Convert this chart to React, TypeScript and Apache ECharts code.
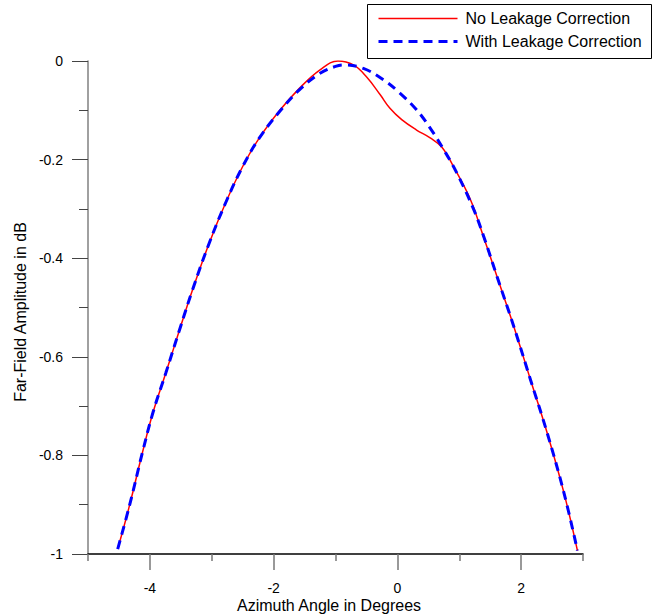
import React, { useEffect, useRef } from "react";
import * as echarts from "echarts";

const noCorrX = [-4.52, -4.33, -4.12, -3.95, -3.74, -3.52, -3.31, -3.04, -2.77, -2.5, -2.23, -1.9, -1.58, -1.25, -0.96, -0.71, -0.5, -0.28, -0.12, 0.07, 0.31, 0.53, 0.72, 0.91, 1.18, 1.39, 1.61, 1.88, 2.15, 2.42, 2.69, 2.91];
const noCorrY = [-0.99, -0.902, -0.794, -0.713, -0.632, -0.545, -0.464, -0.369, -0.286, -0.214, -0.156, -0.1, -0.055, -0.018, 0.0, -0.008, -0.032, -0.068, -0.096, -0.119, -0.14, -0.156, -0.175, -0.215, -0.281, -0.356, -0.437, -0.538, -0.646, -0.754, -0.875, -0.993];

const withCorrX = [-4.52, -4.33, -4.12, -3.95, -3.74, -3.52, -3.31, -3.04, -2.77, -2.5, -2.23, -1.9, -1.58, -1.25, -1.0, -0.85, -0.55, -0.225, 0.04, 0.31, 0.53, 0.75, 0.96, 1.23, 1.39, 1.61, 1.88, 2.15, 2.42, 2.69, 2.91];
const withCorrY = [-0.99, -0.902, -0.794, -0.713, -0.632, -0.545, -0.464, -0.369, -0.286, -0.214, -0.156, -0.102, -0.058, -0.025, -0.011, -0.008, -0.015, -0.038, -0.065, -0.099, -0.136, -0.18, -0.227, -0.3, -0.354, -0.437, -0.538, -0.646, -0.754, -0.875, -0.993];

const majorXTicks = [-4, -2, 0, 2];
const minorXTicks = [-5, -3, -1, 1, 3];
const seriesNames = ["No Leakage Correction", "With Leakage Correction"];
const xTitle = "Azimuth Angle in Degrees";
const yTitle = "Far-Field Amplitude in dB";

const FONT = 'Arial, "Liberation Sans", sans-serif';

export default function App() {
  const ref = useRef<HTMLDivElement>(null);
  useEffect(() => {
    if (!ref.current) return;
    const chart = echarts.init(ref.current, null, { renderer: "svg" });
    const pairs = (xs: number[], ys: number[]) => xs.map((x, i) => [x, ys[i]]);
    chart.setOption({
      animation: false,
      backgroundColor: "#fff",
      grid: { left: 88, top: 61, right: 83, bottom: 62, containLabel: false },
      xAxis: [
        {
          type: "value",
          min: -5,
          max: 3,
          position: "bottom",
          axisLine: { show: true, onZero: false, lineStyle: { color: "#000", width: 1.5 } },
          axisTick: { show: true, customValues: minorXTicks, length: 7, lineStyle: { color: "#777", width: 1.5 } },
          axisLabel: { show: false },
          splitLine: { show: false },
        },
        {
          type: "value",
          min: -5,
          max: 3,
          position: "bottom",
          offset: 0,
          axisLine: { show: false, onZero: false },
          axisTick: { show: true, customValues: majorXTicks, length: 16, lineStyle: { color: "#777", width: 1.5 } },
          axisLabel: { show: true, customValues: majorXTicks, margin: 27, fontSize: 14, fontFamily: FONT, color: "#000" },
          splitLine: { show: false },
        },
      ],
      yAxis: {
        type: "value",
        min: -1,
        max: 0,
        interval: 0.2,
        axisLine: { show: true, onZero: false, lineStyle: { color: "#808080", width: 1.5 } },
        axisTick: { show: true, length: 16, lineStyle: { color: "#444", width: 1 } },
        minorTick: { show: true, splitNumber: 2, length: 9, lineStyle: { color: "#444", width: 1 } },
        axisLabel: { margin: 25, fontSize: 14, fontFamily: FONT, color: "#000" },
        splitLine: { show: false },
        minorSplitLine: { show: false },
      },
      graphic: [
        {
          type: "text",
          x: 329,
          y: 605,
          style: { text: xTitle, fontSize: 16, fontFamily: FONT, fill: "#000", align: "center", verticalAlign: "middle" },
        },
        {
          type: "text",
          x: 20,
          y: 312,
          rotation: Math.PI / 2,
          style: { text: yTitle, fontSize: 16, fontFamily: FONT, fill: "#000", align: "center", verticalAlign: "middle" },
        },
        {
          type: "group",
          left: 367,
          top: 4,
          children: [
            {
              type: "rect",
              shape: { x: 0, y: 0, width: 284, height: 54 },
              style: { fill: "#fff", stroke: "#000", lineWidth: 1 },
            },
            {
              type: "line",
              shape: { x1: 11, y1: 14, x2: 90, y2: 14 },
              style: { stroke: "#ff0000", lineWidth: 1.5 },
            },
            {
              type: "line",
              shape: { x1: 11, y1: 37, x2: 90, y2: 37 },
              style: { stroke: "#0000ff", lineWidth: 3, lineDash: [9, 6] },
            },
            {
              type: "text",
              x: 98,
              y: 14,
              style: { text: seriesNames[0], fontSize: 16, fontFamily: FONT, fill: "#000", verticalAlign: "middle" },
            },
            {
              type: "text",
              x: 98,
              y: 37,
              style: { text: seriesNames[1], fontSize: 16, fontFamily: FONT, fill: "#000", verticalAlign: "middle" },
            },
          ],
        },
      ],
      series: [
        {
          name: seriesNames[0],
          type: "line",
          xAxisIndex: 0,
          data: pairs(noCorrX, noCorrY),
          smooth: 0.4,
          showSymbol: false,
          symbol: "none",
          lineStyle: { color: "#ff0000", width: 1.5 },
          z: 2,
        },
        {
          name: seriesNames[1],
          type: "line",
          xAxisIndex: 0,
          data: pairs(withCorrX, withCorrY),
          smooth: 0.4,
          showSymbol: false,
          symbol: "none",
          lineStyle: { color: "#0000ff", width: 3, type: [9, 6] },
          z: 3,
        },
      ],
    });
    return () => chart.dispose();
  }, []);
  return <div ref={ref} style={{ position: "absolute", left: 0, top: 0, width: 666, height: 616 }} />;
}
